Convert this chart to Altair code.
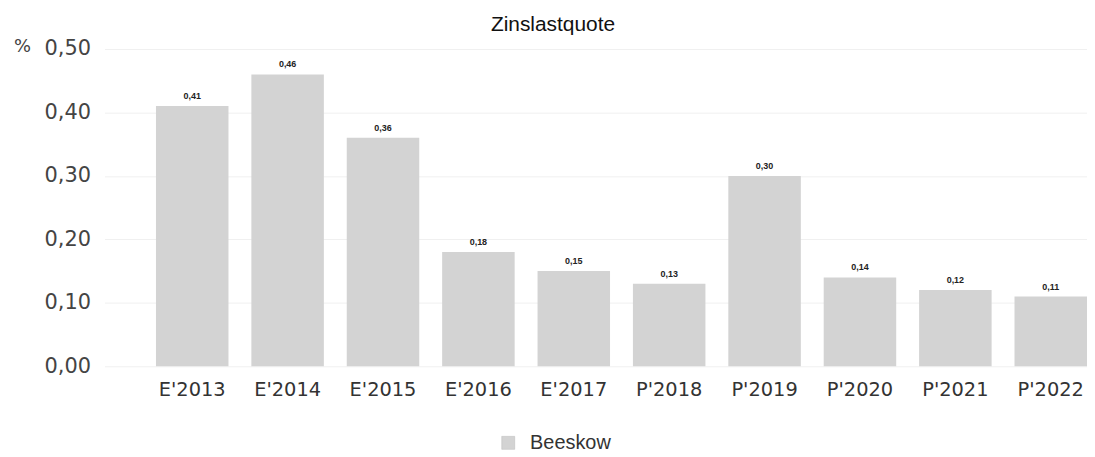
import altair as alt
import pandas as pd

categories = ["E'2013", "E'2014", "E'2015", "E'2016", "E'2017",
              "P'2018", "P'2019", "P'2020", "P'2021", "P'2022"]
values = [0.41, 0.46, 0.36, 0.18, 0.15, 0.13, 0.30, 0.14, 0.12, 0.11]
series = ["Beeskow"] * len(categories)

df = pd.DataFrame({"Jahr": categories, "Wert": values, "Serie": series})

x_enc = alt.X("Jahr:N", sort=categories, title=None,
              scale=alt.Scale(paddingInner=0.24, paddingOuter=0.27, align=1),
              axis=alt.Axis(labelAngle=0, labelFontSize=19.5, labelFont="DejaVu Sans",
                            labelColor="#333333", labelPadding=14, ticks=False,
                            domain=False, grid=False))
y_enc = alt.Y("Wert:Q", title="%",
              scale=alt.Scale(domain=[0, 0.5], nice=False),
              axis=alt.Axis(values=[0, 0.1, 0.2, 0.3, 0.4, 0.5],
                            labelExpr="replace(format(datum.value, '.2f'), '.', ',')",
                            labelFontSize=21, labelFont="DejaVu Sans",
                            labelColor="#444444", labelPadding=14,
                            ticks=False, domain=False,
                            grid=True, gridColor="#f0f0f0",
                            titleAngle=0, titleX=-83, titleY=-3,
                            titleAlign="center", titleBaseline="middle",
                            titleFontSize=18, titleFont="DejaVu Sans",
                            titleFontWeight="normal", titleColor="#444444"))

base = alt.Chart(df)

bars = base.mark_bar(color="#d3d3d3").encode(
    x=x_enc, y=y_enc,
    color=alt.Color("Serie:N", title=None,
                    scale=alt.Scale(range=["#d3d3d3"]),
                    legend=alt.Legend(orient="none", legendX=396, legendY=386,
                                      symbolType="square", symbolSize=170,
                                      symbolStrokeColor="#bbbbbb", symbolStrokeWidth=0.5,
                                      labelFontSize=20, labelFont="Liberation Sans",
                                      labelOffset=12,
                                      labelColor="#333333"))
)

labels = base.transform_calculate(
    lab="replace(format(datum.Wert, '.2f'), '.', ',')"
).mark_text(dy=-10, fontSize=9, fontWeight="bold", font="Liberation Sans",
            color="#222222").encode(
    x=alt.X("Jahr:N", sort=categories),
    y=alt.Y("Wert:Q"),
    text="lab:N"
)

title = alt.Chart(pd.DataFrame({"t": ["Zinslastquote"]})).mark_text(
    fontSize=21, font="Liberation Sans", color="#111111", baseline="alphabetic"
).encode(x=alt.value(451), y=alt.value(-18), text="t:N")

chart = alt.layer(bars, labels, title).properties(
    width=988, height=319,
    autosize=alt.AutoSizeParams(type="none"),
    padding={"left": 97, "top": 40, "right": 0, "bottom": 90}
).configure_view(stroke=None)

chart.save("out.html", embed_options={"renderer": "svg", "actions": False})
